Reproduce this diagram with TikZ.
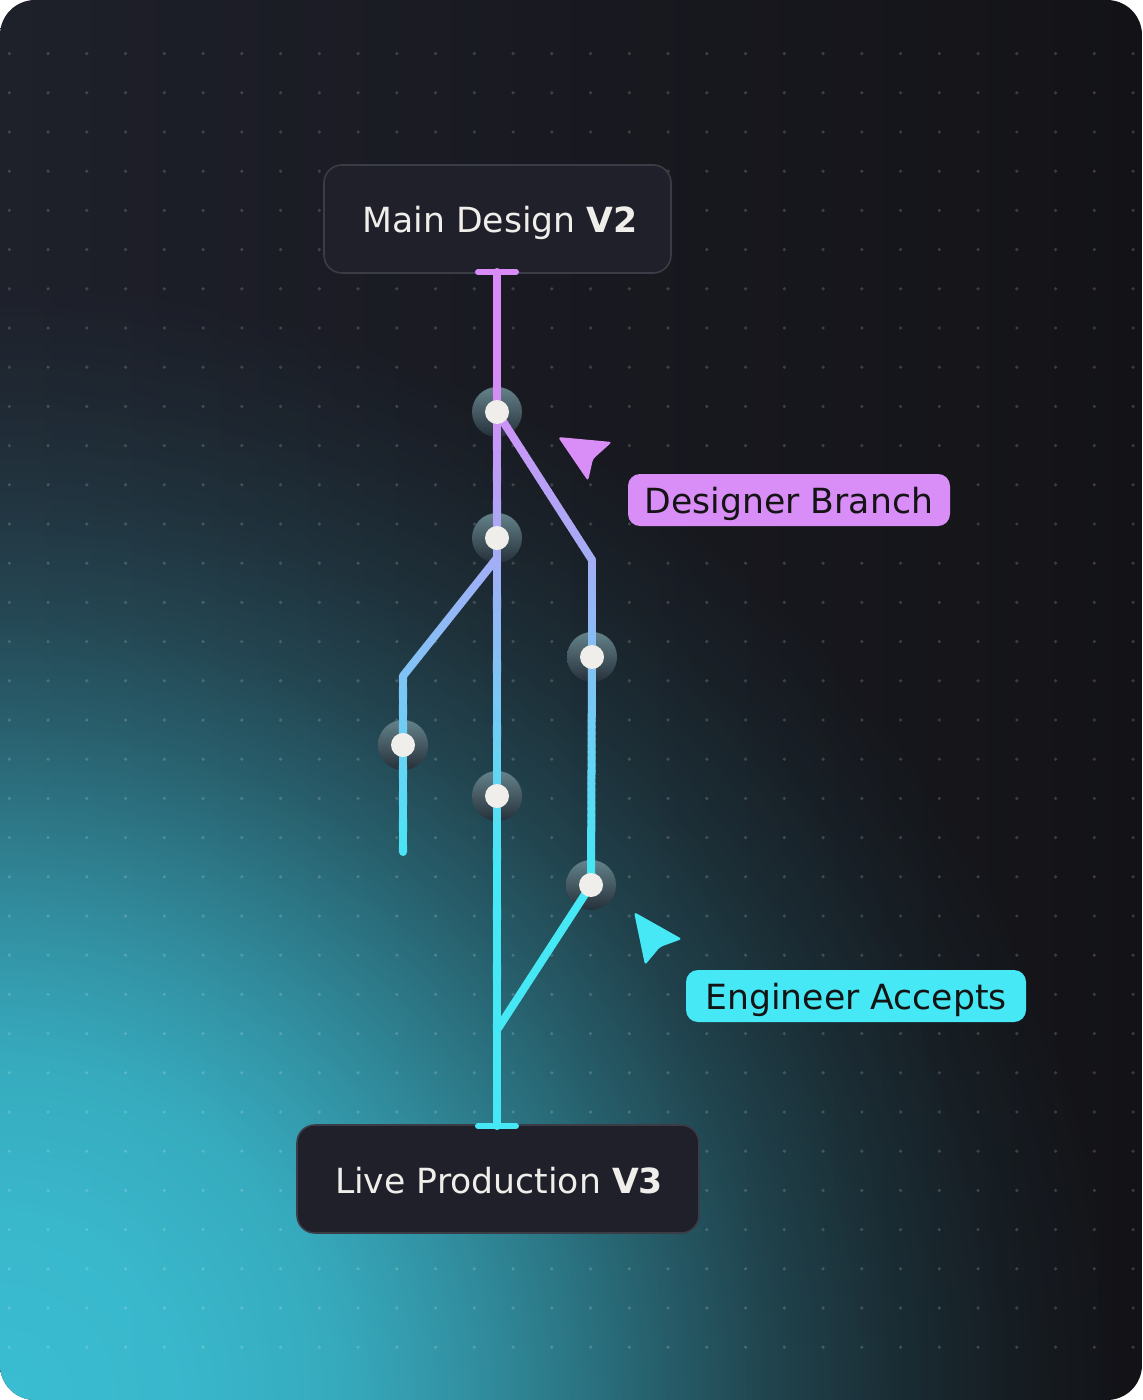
\documentclass[tikz,border=0pt]{standalone}
\usepackage{fontspec}
\setmainfont{DejaVu Sans}
\usetikzlibrary{calc,fadings}
\definecolor{pinkl}{RGB}{217,140,247}
\definecolor{cyanl}{RGB}{69,232,244}
\definecolor{bgl}{RGB}{30,32,42}
\definecolor{bgr}{RGB}{19,19,23}
\definecolor{glowc}{RGB}{60,196,217}
\definecolor{boxfill}{RGB}{31,32,41}
\definecolor{boxline}{RGB}{58,60,70}
\definecolor{txtc}{RGB}{240,238,234}
\definecolor{halotop}{RGB}{100,130,138}
\definecolor{halobot}{RGB}{38,48,58}
\definecolor{lblpink}{RGB}{217,142,247}
\definecolor{lblcyan}{RGB}{69,232,244}
\pgfdeclareradialshading{glowsh}{\pgfpoint{0bp}{0bp}}{color(0bp)=(white!96!black); color(3.75bp)=(white!93!black); color(7.5bp)=(white!85!black); color(10bp)=(white!72!black); color(12.5bp)=(white!56!black); color(15bp)=(white!39!black); color(17.5bp)=(white!24!black); color(20bp)=(white!13!black); color(22.5bp)=(white!5!black); color(25bp)=(black); color(50bp)=(black)}
\tikzfading[name=glowfade, shading=glowsh]
\tikzset{
  track/.style={line width=2.28pt, line cap=round},
  boxst/.style={fill=boxfill, draw=boxline, line width=0.45pt, rounded corners=5.1pt},
  boxtxt/.style={text=txtc, inner sep=0pt, anchor=base, font=\fontsize{9.85pt}{12pt}\selectfont},
  lbltxt/.style={text=black!92, inner sep=0pt, anchor=base, font=\fontsize{9.85pt}{12pt}\selectfont},
  halo/.style={top color=halotop, bottom color=halobot},
  wdot/.style={fill=txtc},
  tbar/.style={line width=1.71pt, line cap=round}
}
\newcommand\gradline[3]{%
  \path let \p1=(#2), \p2=(#3) in \pgfextra{\xdef\gya{\y1}\xdef\gyb{\y2}};
  \foreach \k in {1,...,#1}{%
    \pgfmathsetmacro\ta{(\k-1)/#1}%
    \pgfmathsetmacro\tb{\k/#1}%
    \pgfmathsetmacro\ypx{-((\gya)+((\gyb)-(\gya))*(\k-0.5)/#1)/0.284528}%
    \pgfmathtruncatemacro\pct{max(0,min(100,(\ypx-380)/4.9))}%
    \colorlet{segc}{cyanl!\pct!pinkl}%
    \draw[track, segc] ($(#2)!\ta!(#3)$) -- ($(#2)!\tb!(#3)$);
  }%
}
\begin{document}
\begin{tikzpicture}[x=0.01cm,y=-0.01cm]
\useasboundingbox (0,0) rectangle (1142,1400);
% background
\shade[left color=bgl, right color=bgr, rounded corners=9.96pt] (0,0) rectangle (1142,1400);
\begin{scope}
  \clip[rounded corners=9.96pt] (0,0) rectangle (1142,1400);
  \fill[glowc, path fading=glowfade] (0,1400) circle (1120);
  \foreach \i in {0,...,29}{
    \foreach \j in {0,...,33}{
      \fill[white, opacity=0.17] (9.3+38.75*\i, 53.6+39.2*\j) circle (1.8);
    }
  }
\end{scope}
% boxes
\draw[boxst] (324,165) rectangle (671,273);
\draw[boxst] (297,1125) rectangle (699,1233);
\node[boxtxt] (maintxt) at (500,232.7) {Main Design \textbf{V2}};
\node[boxtxt] (livetxt) at (499,1193) {Live Production \textbf{V3}};
% coordinates
\coordinate (top) at (497,272);
\coordinate (bot) at (497,1126);
\coordinate (n1) at (497,412);
\coordinate (n2) at (497,538);
\coordinate (n3) at (592,657);
\coordinate (n4) at (403,745);
\coordinate (n5) at (497,796);
\coordinate (n6) at (591,885);
\coordinate (rc) at (592,560);
\coordinate (jn) at (497,1030);
\coordinate (l0) at (497,558);
\coordinate (lc) at (403,676);
\coordinate (lend) at (403,852);
\coordinate (ttl) at (478,272);
\coordinate (ttr) at (516,272);
\coordinate (btl) at (478,1126);
\coordinate (btr) at (516,1126);
% halos
\foreach \n in {n1,n2,n3,n4,n5,n6}{
  \shade[halo] (\n) circle (25);
}
% tracks
\gradline{4}{top}{n1}
\gradline{20}{n1}{n2}
\gradline{40}{n2}{n5}
\gradline{36}{n5}{jn}
\gradline{4}{jn}{bot}
\gradline{28}{n1}{rc}
\gradline{16}{rc}{n3}
\gradline{36}{n3}{n6}
\gradline{4}{n6}{jn}
\gradline{24}{l0}{lc}
\gradline{12}{lc}{n4}
\gradline{16}{n4}{lend}
% T bars
\draw[tbar, pinkl] (ttl) -- (ttr);
\draw[tbar, cyanl] (btl) -- (btr);
% white dots
\foreach \n in {n1,n2,n3,n4,n5,n6}{
  \fill[wdot] (\n) circle (12);
}
% cursors
\fill[lblpink, rounded corners=0.8pt] (558,437) -- (612,442) -- (593,459) -- (588,481) -- cycle;
\fill[lblcyan, rounded corners=0.8pt] (634,912) -- (682,939) -- (660,947) -- (645,965) -- cycle;
% labels
\fill[lblpink, rounded corners=3.4pt] (628,474) rectangle (950,526);
\node[lbltxt] (dbr) at (789,513) {Designer Branch};
\fill[lblcyan, rounded corners=3.4pt] (686,970) rectangle (1026,1022);
\node[lbltxt] (eac) at (856,1009) {Engineer Accepts};
\end{tikzpicture}
\end{document}
